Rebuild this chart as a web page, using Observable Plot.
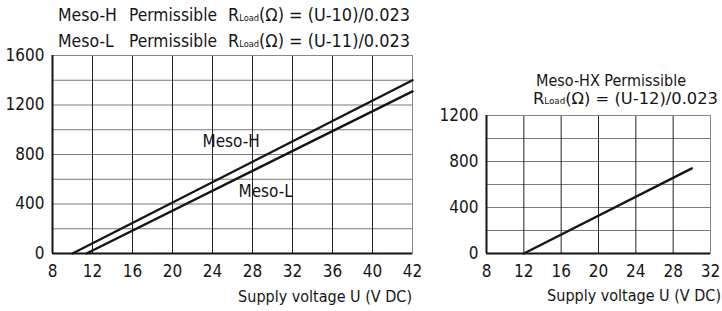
<!DOCTYPE html>
<html><head><meta charset="utf-8">
<script src="https://cdn.jsdelivr.net/npm/d3@7"></script>
<script src="https://cdn.jsdelivr.net/npm/@observablehq/plot@0.6"></script>
<style>
body{margin:0;background:#fff;}
#c{position:relative;width:722px;height:311px;font-family:"DejaVu Sans Condensed","DejaVu Sans",sans-serif;color:#111;}
#c > svg{position:absolute;top:0;}
</style></head><body><div id="c"></div>
<script>
// ---- data ----
const voltTicksL = [8, 12, 16, 20, 24, 28, 32, 36, 40, 42];
const resTicksL = [0, 400, 800, 1200, 1600];
const resGridL = [0, 200, 400, 600, 800, 1000, 1200, 1400, 1600];
const mesoH = [{u: 10, r: 0}, {u: 42, r: 1400}];
const mesoL = [{u: 11.4, r: 0}, {u: 42, r: 1310}];
const seriesLabels = [{u: 23, r: 905, t: "Meso-H"}, {u: 26.6, r: 501, t: "Meso-L"}];

const voltTicksR = [8, 12, 16, 20, 24, 28, 32];
const resTicksR = [0, 400, 800, 1200];
const resGridR = [0, 200, 400, 600, 800, 1000, 1200];
const mesoHX = [{u: 12, r: 0}, {u: 30, r: 740}];

const titleH = ["Meso-H", "Permissible", ["R", "Load", "(Ω) = (U-10)/0.023"]];
const titleL = ["Meso-L", "Permissible", ["R", "Load", "(Ω) = (U-11)/0.023"]];
const titleHX1 = "Meso-HX Permissible";
const titleHX2 = ["R", "Load", "(Ω) = (U-12)/0.023"];
const xLabel = "Supply voltage U (V DC)";

// ---- charts ----
const font = "'DejaVu Sans Condensed','DejaVu Sans',sans-serif";
const ink = "#151515";
function panel({width, mt, mr, mb, ml, xdom, xrange, ydom, xt, yt, yg, lines, labels}) {
  const marks = [
    Plot.gridY(yg, {stroke: "#7a7a7a", strokeOpacity: 1, strokeWidth: 1}),
    Plot.gridX(xt, {stroke: "#222", strokeOpacity: 1, strokeWidth: 1}),
    Plot.frame({stroke: "#888", strokeWidth: 1}),
    Plot.ruleX([xdom[0]], {stroke: ink, strokeWidth: 2}),
    Plot.ruleY([0], {stroke: ink, strokeWidth: 2}),
    ...lines.map(d => Plot.line(d, {x: "u", y: "r", stroke: ink, strokeWidth: 2.4})),
    Plot.axisX(xt, {tickSize: 0, tickPadding: 11, fontSize: 17, label: null, fill: ink, tickFormat: d => String(d)}),
    Plot.axisY(yt, {tickSize: 0, tickPadding: 8, fontSize: 17, label: null, fill: ink, tickFormat: d => String(d)})
  ];
  if (labels) marks.push(Plot.text(labels, {x: "u", y: "r", text: "t", textAnchor: "start", fontSize: 17, fill: ink}));
  return Plot.plot({
    width, height: 311,
    marginTop: mt, marginRight: mr, marginBottom: mb, marginLeft: ml,
    x: xrange ? {type: "linear", domain: xdom, range: xrange} : {domain: xdom},
    y: {domain: ydom},
    style: {fontFamily: font, background: "transparent", overflow: "visible"},
    marks
  });
}

const c = document.getElementById("c");
const p1 = panel({width: 430, mt: 55, mr: 18, mb: 58, ml: 52,
  xdom: [8, 40, 42], xrange: [52, 372, 412], ydom: [0, 1600],
  xt: voltTicksL, yt: resTicksL, yg: resGridL, lines: [mesoH, mesoL], labels: seriesLabels});
p1.style.left = "0px";
c.appendChild(p1);

const p2 = panel({width: 292, mt: 115, mr: 12, mb: 58, ml: 56,
  xdom: [8, 32], ydom: [0, 1200],
  xt: voltTicksR, yt: resTicksR, yg: resGridR, lines: [mesoHX]});
p2.style.left = "430px";
c.appendChild(p2);

// ---- titles ----
const ns = "http://www.w3.org/2000/svg";
const ov = document.createElementNS(ns, "svg");
ov.setAttribute("width", 722); ov.setAttribute("height", 311);
ov.style.left = "0px"; ov.style.pointerEvents = "none";
c.appendChild(ov);
function txt(x, y, parts, size, opts = {}) {
  const t = document.createElementNS(ns, "text");
  t.setAttribute("x", x); t.setAttribute("y", y);
  t.setAttribute("font-size", size); t.setAttribute("fill", ink);
  t.setAttribute("font-family", font);
  if (opts.anchor) t.setAttribute("text-anchor", opts.anchor);
  if (opts.width) { t.setAttribute("textLength", opts.width); t.setAttribute("lengthAdjust", "spacingAndGlyphs"); }
  if (typeof parts === "string") parts = [parts];
  parts.forEach((p, i) => {
    const s = document.createElementNS(ns, "tspan");
    if (i === 1) { s.setAttribute("font-size", opts.sub || 9); }
    s.textContent = p;
    t.appendChild(s);
  });
  ov.appendChild(t);
}
const TS = 17.5;
txt(58, 21, titleH[0], TS);
txt(129, 21, titleH[1], TS, {width: 88});
txt(228, 21, titleH[2], TS, {width: 182});
txt(58, 46.5, titleL[0], TS);
txt(129, 46.5, titleL[1], TS, {width: 88});
txt(228, 46.5, titleL[2], TS, {width: 182});
txt(536, 86, titleHX1, 15, {width: 150});
txt(533, 103.5, titleHX2, 15, {width: 185, sub: 8});
txt(412, 302, xLabel, 16, {anchor: "end"});
txt(721, 301, xLabel, 16, {anchor: "end"});
</script></body></html>
